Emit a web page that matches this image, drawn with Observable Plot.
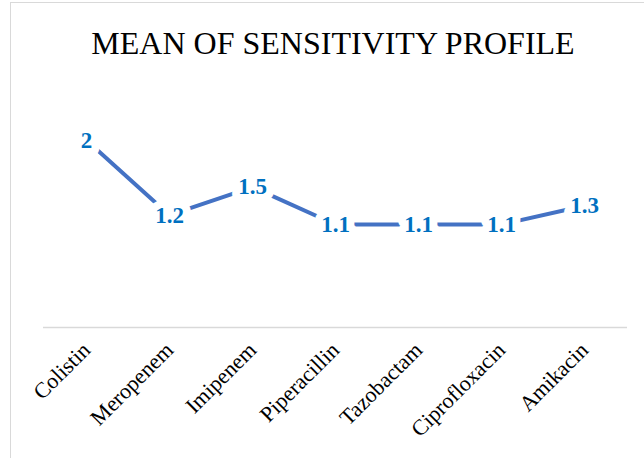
<!DOCTYPE html>
<html>
<head>
<meta charset="utf-8">
<script src="https://cdn.jsdelivr.net/npm/d3@7"></script>
<script src="https://cdn.jsdelivr.net/npm/@observablehq/plot@0.6"></script>
<style>
  html, body { margin: 0; padding: 0; background: #fff; overflow: hidden; }
  #wrap { position: relative; width: 644px; height: 458px; }
  #box { position: absolute; left: 10px; top: 2px; width: 700px; height: 520px; border: 1px solid #d9d9d9; }
  #title { position: absolute; left: 0; top: 0; }
  #chart { position: absolute; left: 0; top: 70px; }
</style>
</head>
<body>
<div id="wrap">
  <div id="box"></div>
  <div id="title"></div>
  <div id="chart"></div>
</div>
<script>
const titleText = "MEAN OF SENSITIVITY PROFILE";
const categories = ["Colistin", "Meropenem", "Imipenem", "Piperacillin", "Tazobactam", "Ciprofloxacin", "Amikacin"];
const values = [2, 1.2, 1.5, 1.1, 1.1, 1.1, 1.3];
const labels = ["2", "1.2", "1.5", "1.1", "1.1", "1.1", "1.3"];

const data = categories.map((c, i) => ({category: c, value: values[i], label: labels[i]}));

// Title (SVG text, above the chart)
const tsvg = d3.create("svg").attr("width", 644).attr("height", 70);
tsvg.append("text")
  .attr("x", 333).attr("y", 54)
  .attr("text-anchor", "middle")
  .attr("font-family", "Liberation Serif")
  .attr("font-size", 32)
  .attr("fill", "#000")
  .text(titleText);
document.getElementById("title").appendChild(tsvg.node());

const chart = Plot.plot({
  width: 644,
  height: 388,
  marginLeft: 43,
  marginRight: 17,
  marginTop: 23,
  marginBottom: 131,
  style: {fontFamily: "Liberation Serif", background: "transparent", overflow: "visible"},
  x: {type: "point", domain: categories, padding: 0.5},
  y: {domain: [0, 2.5], axis: null},
  marks: [
    Plot.ruleY([0], {stroke: "#d9d9d9", strokeWidth: 1.5}),
    Plot.axisX({tickSize: 0, tickRotate: -45, tickPadding: 19, fontSize: 22, fill: "#000", label: null, fontFamily: "Liberation Serif"}),
    Plot.lineY(data, {x: "category", y: "value", stroke: "#4472C4", strokeWidth: 4}),
    Plot.text(data, {x: "category", y: "value", text: "label", fill: "#0070C0", stroke: "white", strokeWidth: 16,
      fontSize: 23, fontWeight: "bold", fontFamily: "Liberation Serif"})
  ]
});
document.getElementById("chart").appendChild(chart);
</script>
</body>
</html>
